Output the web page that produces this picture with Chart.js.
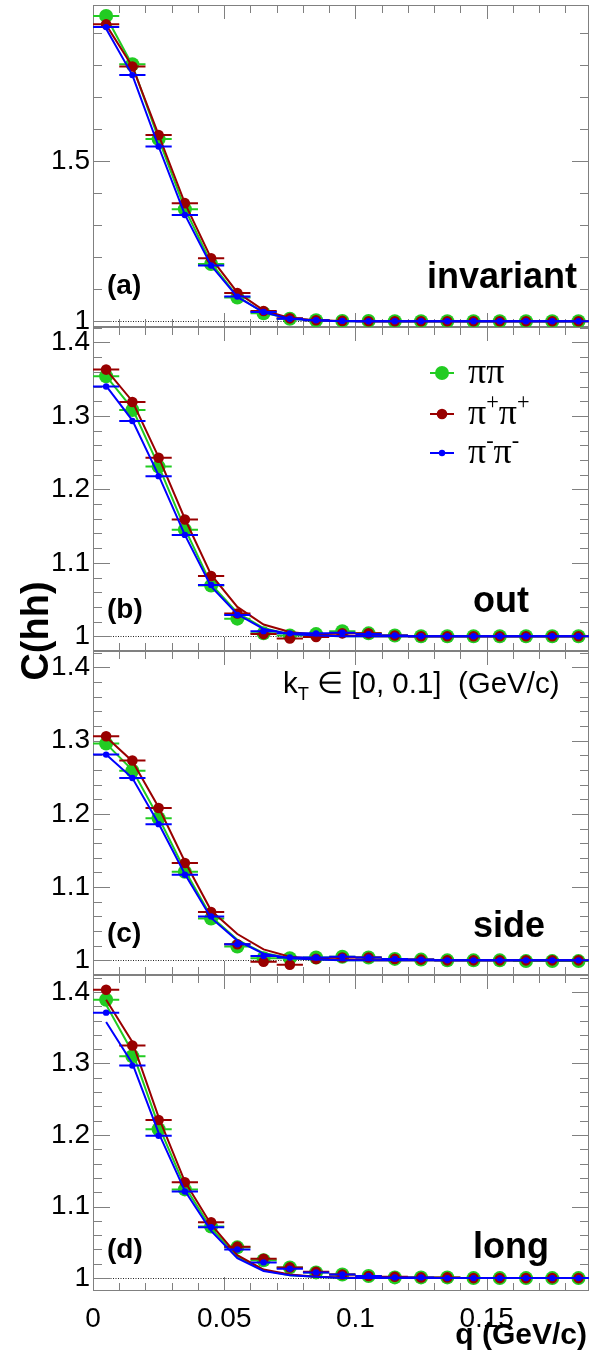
<!DOCTYPE html>
<html>
<head>
<meta charset="utf-8">
<script src="https://cdn.jsdelivr.net/npm/chart.js@4.4.1/dist/chart.umd.min.js"></script>
<style>
  html, body { margin: 0; padding: 0; background: #fff; }
  #wrap { position: relative; width: 590px; height: 1357px; overflow: hidden; background: #fff; }
  #wrap canvas { position: absolute; left: 0; }
</style>
</head>
<body>
<div id="wrap"></div>
<script>
// q bin centres (GeV/c)
const q = [0.005, 0.015, 0.025, 0.035, 0.045, 0.055, 0.065, 0.075, 0.085, 0.095,
           0.105, 0.115, 0.125, 0.135, 0.145, 0.155, 0.165, 0.175, 0.185];
const binHalf = 0.005;
const xTicks = [0, 0.05, 0.1, 0.15];
const X_MAX = 0.189;

// invariant
const invPiPi     = [1.954, 1.803, 1.569, 1.350, 1.179, 1.074, 1.025, 1.008, 1.003, 1.001, 1.001, 1.000, 1.000, 1.000, 1.000, 1.000, 1.000, 1.000, 1.000];
const invPlus     = [1.928, 1.796, 1.582, 1.369, 1.197, 1.088, 1.032, 1.009, 1.003, 1.001, 1.000, 1.000, 1.000, 1.000, 1.000, 1.000, 1.000, 1.000, 1.000];
const invMinus    = [1.919, 1.769, 1.546, 1.332, 1.174, 1.077, 1.029, 1.008, 1.003, 1.001, 1.000, 1.000, 1.000, 1.000, 1.000, 1.000, 1.000, 1.000, 1.000];
const invPiPiFit  = [1.952, 1.800, 1.570, 1.352, 1.182, 1.078, 1.027, 1.008, 1.002, 1.000, 1.000, 1.000, 1.000, 1.000, 1.000, 1.000, 1.000, 1.000, 1.000];
const invPlusFit  = [1.926, 1.796, 1.582, 1.369, 1.197, 1.090, 1.034, 1.010, 1.003, 1.001, 1.000, 1.000, 1.000, 1.000, 1.000, 1.000, 1.000, 1.000, 1.000];
const invMinusFit = [1.914, 1.769, 1.546, 1.333, 1.174, 1.076, 1.028, 1.008, 1.002, 1.000, 1.000, 1.000, 1.000, 1.000, 1.000, 1.000, 1.000, 1.000, 1.000];

// out
const outPiPi     = [1.354, 1.308, 1.231, 1.145, 1.069, 1.024, 1.004, 1.001, 1.003, 1.007, 1.004, 1.001, 1.000, 1.000, 1.000, 1.000, 1.000, 1.000, 1.000];
const outPlus     = [1.363, 1.319, 1.243, 1.159, 1.082, 1.031, 1.003, 0.997, 0.999, 1.004, 1.004, 1.001, 1.000, 1.000, 1.000, 1.000, 1.000, 1.000, 1.000];
const outMinus    = [1.340, 1.293, 1.218, 1.138, 1.070, 1.029, 1.007, 1.004, 1.004, 1.005, 1.003, 1.001, 1.000, 1.000, 1.000, 1.000, 1.000, 1.000, 1.000];
const outPiPiFit  = [1.354, 1.310, 1.232, 1.147, 1.071, 1.032, 1.011, 1.003, 1.001, 1.000, 1.000, 1.000, 1.000, 1.000, 1.000, 1.000, 1.000, 1.000, 1.000];
const outPlusFit  = [1.363, 1.320, 1.244, 1.160, 1.084, 1.040, 1.016, 1.006, 1.002, 1.001, 1.000, 1.000, 1.000, 1.000, 1.000, 1.000, 1.000, 1.000, 1.000];
const outMinusFit = [1.341, 1.294, 1.219, 1.138, 1.068, 1.030, 1.010, 1.003, 1.001, 1.000, 1.000, 1.000, 1.000, 1.000, 1.000, 1.000, 1.000, 1.000, 1.000];

// side
const sidePiPi     = [1.296, 1.259, 1.194, 1.121, 1.057, 1.019, 1.003, 1.003, 1.004, 1.005, 1.004, 1.002, 1.001, 1.000, 1.000, 1.000, 0.999, 0.999, 0.999];
const sidePlus     = [1.306, 1.273, 1.208, 1.133, 1.066, 1.022, 0.998, 0.994, 1.002, 1.004, 1.004, 1.002, 1.001, 1.000, 1.000, 1.000, 1.000, 1.000, 1.000];
const sideMinus    = [1.281, 1.249, 1.186, 1.117, 1.060, 1.022, 1.006, 1.004, 1.004, 1.005, 1.004, 1.002, 1.001, 1.000, 1.000, 1.000, 1.000, 1.000, 1.000];
const sidePiPiFit  = [1.296, 1.260, 1.195, 1.123, 1.060, 1.028, 1.010, 1.003, 1.001, 1.000, 1.000, 1.000, 1.000, 1.000, 1.000, 1.000, 1.000, 1.000, 1.000];
const sidePlusFit  = [1.305, 1.272, 1.209, 1.135, 1.068, 1.036, 1.015, 1.005, 1.002, 1.001, 1.000, 1.000, 1.000, 1.000, 1.000, 1.000, 1.000, 1.000, 1.000];
const sideMinusFit = [1.281, 1.249, 1.187, 1.118, 1.058, 1.027, 1.009, 1.003, 1.001, 1.000, 1.000, 1.000, 1.000, 1.000, 1.000, 1.000, 1.000, 1.000, 1.000];

// long
const longPiPi     = [1.389, 1.310, 1.208, 1.124, 1.072, 1.043, 1.025, 1.015, 1.008, 1.005, 1.003, 1.001, 1.001, 1.001, 1.000, 1.000, 1.000, 1.000, 1.000];
const longPlus     = [1.403, 1.325, 1.221, 1.134, 1.078, 1.044, 1.027, 1.015, 1.009, 1.005, 1.003, 1.002, 1.001, 1.001, 1.000, 1.000, 1.000, 1.000, 1.000];
const longMinus    = [1.371, 1.297, 1.199, 1.121, 1.071, 1.040, 1.022, 1.013, 1.008, 1.005, 1.003, 1.001, 1.001, 1.000, 1.000, 1.000, 1.000, 1.000, 1.000];
const longPiPiFit  = [1.382, 1.316, 1.213, 1.128, 1.070, 1.030, 1.011, 1.004, 1.002, 1.000, 1.000, 1.000, 1.000, 1.000, 1.000, 1.000, 1.000, 1.000, 1.000];
const longPlusFit  = [1.389, 1.330, 1.225, 1.135, 1.075, 1.032, 1.012, 1.005, 1.002, 1.001, 1.000, 1.000, 1.000, 1.000, 1.000, 1.000, 1.000, 1.000, 1.000];
const longMinusFit = [1.358, 1.300, 1.203, 1.122, 1.066, 1.028, 1.010, 1.004, 1.002, 1.000, 1.000, 1.000, 1.000, 1.000, 1.000, 1.000, 1.000, 1.000, 1.000];

const SANS = "'Liberation Sans', Arial, Helvetica, sans-serif";
const SERIF = "'Liberation Serif', 'Times New Roman', serif";
const FRAME = '#808080';
const PAD = 30;

const series = [
  { color: '#22cc22', r: 7,   legend: [{ t: 'π' }, { t: 'π' }] },
  { color: '#990000', r: 5.3, legend: [{ t: 'π' }, { t: '+', sup: true }, { t: 'π' }, { t: '+', sup: true }] },
  { color: '#0000ff', r: 3.2, legend: [{ t: 'π' }, { t: '-', sup: true }, { t: 'π' }, { t: '-', sup: true }] }
];

const panels = [
  { tag: '(a)', name: 'invariant', top: 5, bottom: 327, yMin: 0.982, yMax: 1.988,
    yLabels: [1, 1.5], yStep: 0.1, yEvery: 5, nameX: 427, nameY: 288,
    points: [invPiPi, invPlus, invMinus], fits: [invPiPiFit, invPlusFit, invMinusFit] },
  { tag: '(b)', name: 'out', top: 327, bottom: 651, yMin: 0.98, yMax: 1.421,
    yLabels: [1, 1.1, 1.2, 1.3, 1.4], yStep: 0.02, yEvery: 5, nameX: 473, nameY: 612,
    points: [outPiPi, outPlus, outMinus], fits: [outPiPiFit, outPlusFit, outMinusFit],
    legend: true, yTitle: true },
  { tag: '(c)', name: 'side', top: 651, bottom: 975, yMin: 0.98, yMax: 1.4225,
    yLabels: [1, 1.1, 1.2, 1.3, 1.4], yStep: 0.02, yEvery: 5, nameX: 473, nameY: 937,
    points: [sidePiPi, sidePlus, sideMinus], fits: [sidePiPiFit, sidePlusFit, sideMinusFit],
    ktLabel: true },
  { tag: '(d)', name: 'long', top: 975, bottom: 1291, yMin: 0.982, yMax: 1.4236,
    yLabels: [1, 1.1, 1.2, 1.3, 1.4], yStep: 0.02, yEvery: 5, nameX: 473, nameY: 1258,
    points: [longPiPi, longPlus, longMinus], fits: [longPiPiFit, longPlusFit, longMinusFit],
    xAxis: true }
];

function tickValues(min, max, step, every) {
  const out = [];
  const k0 = Math.ceil(min / step - 1e-6), k1 = Math.floor(max / step + 1e-6);
  for (let k = k0; k <= k1; k++) out.push({ v: k * step, major: k % every === 0 });
  return out;
}

function fmt(v) { return String(Math.round(v * 1000) / 1000); }

// text runs with super/subscripts
function drawRuns(ctx, runs, x, y, size, family, weight) {
  for (const r of runs) {
    const fs = r.sup || r.sub ? size * 0.62 : size;
    ctx.font = `${weight || ''} ${fs}px ${family}`;
    const dy = r.sup ? -size * 0.42 : r.sub ? size * 0.25 : 0;
    ctx.fillText(r.t, x, y + dy);
    x += ctx.measureText(r.t).width;
  }
}

function makeDeco(p, canvasTop) {
  const Y = v => v - canvasTop;
  return {
    id: 'deco',
    beforeDatasetsDraw(chart) {
      const { ctx, chartArea: a, scales: { x, y } } = chart;
      ctx.save();
      // dotted baseline at C = 1
      ctx.strokeStyle = '#222';
      ctx.lineWidth = 1;
      ctx.setLineDash([1, 1.5]);
      const y1 = Math.round(y.getPixelForValue(1)) + 0.5;
      ctx.beginPath(); ctx.moveTo(a.left, y1); ctx.lineTo(a.right, y1); ctx.stroke();
      ctx.setLineDash([]);
      // frame with inward ticks on all sides
      ctx.strokeStyle = FRAME;
      ctx.strokeRect(a.left + 0.5, a.top + 0.5, a.right - a.left - 1, a.bottom - a.top - 1);
      ctx.beginPath();
      for (const t of tickValues(p.yMin, p.yMax, p.yStep, p.yEvery)) {
        const py = Math.round(y.getPixelForValue(t.v)) + 0.5;
        const len = t.major ? 17 : 9;
        ctx.moveTo(a.left, py); ctx.lineTo(a.left + len, py);
        ctx.moveTo(a.right, py); ctx.lineTo(a.right - len, py);
      }
      for (const t of tickValues(0, X_MAX, 0.01, 5)) {
        const px = Math.round(x.getPixelForValue(t.v)) + 0.5;
        const len = t.major ? 14 : 8;
        ctx.moveTo(px, a.top); ctx.lineTo(px, a.top + len);
        ctx.moveTo(px, a.bottom); ctx.lineTo(px, a.bottom - len);
      }
      ctx.stroke();
      ctx.restore();
    },
    beforeDatasetDraw(chart, args) {
      const ds = chart.data.datasets[args.index];
      if (!ds.errBars) return;
      const { ctx, chartArea: a, scales: { x } } = chart;
      ctx.save();
      ctx.beginPath(); ctx.rect(a.left, a.top, a.right - a.left, a.bottom - a.top); ctx.clip();
      ctx.strokeStyle = ds.borderColor;
      ctx.lineWidth = 2;
      ctx.beginPath();
      args.meta.data.forEach((pt, i) => {
        const xv = ds.data[i].x;
        ctx.moveTo(x.getPixelForValue(xv - binHalf), pt.y);
        ctx.lineTo(x.getPixelForValue(xv + binHalf), pt.y);
      });
      ctx.stroke();
      ctx.restore();
    },
    afterDraw(chart) {
      const ctx = chart.ctx;
      ctx.save();
      ctx.fillStyle = '#000';
      ctx.textBaseline = 'alphabetic';
      ctx.textAlign = 'left';
      ctx.font = `bold 28px ${SANS}`;
      ctx.fillText(p.tag, 107, Y(p.bottom - 33));
      ctx.font = `bold 36px ${SANS}`;
      ctx.fillText(p.name, p.nameX, Y(p.nameY));

      if (p.legend) {
        const rows = [373, 414, 453];
        series.forEach((s, i) => {
          const ry = Y(rows[i]);
          ctx.strokeStyle = s.color; ctx.lineWidth = 2;
          ctx.beginPath(); ctx.moveTo(430, ry); ctx.lineTo(454, ry); ctx.stroke();
          ctx.fillStyle = s.color;
          ctx.beginPath(); ctx.arc(442, ry, s.r, 0, Math.PI * 2); ctx.fill();
          ctx.fillStyle = '#000';
          drawRuns(ctx, s.legend, 468, ry + 10, 36, SERIF);
        });
      }
      if (p.yTitle) {
        ctx.save();
        ctx.translate(48, Y(631));
        ctx.rotate(-Math.PI / 2);
        ctx.textAlign = 'center';
        ctx.font = `bold 38px ${SANS}`;
        ctx.fillText('C(hh)', 0, 0);
        ctx.restore();
      }
      if (p.ktLabel) {
        drawRuns(ctx, [{ t: 'k' }, { t: 'T', sub: true }, { t: ' ∈ [0, 0.1]  (GeV/c)' }], 283, Y(693), 29.5, SANS);
      }
      if (p.xAxis) {
        ctx.textAlign = 'right';
        ctx.font = `bold 30px ${SANS}`;
        ctx.fillText('q (GeV/c)', 587, Y(1344));
      }
      ctx.restore();
    }
  };
}

const wrap = document.getElementById('wrap');

panels.forEach(p => {
  const canvasTop = p.top - PAD;
  const padBottom = p.xAxis ? 0 : PAD;
  const xScaleH = p.xAxis ? 1357 - p.bottom : 0;
  const height = p.xAxis ? 1357 - canvasTop : (p.bottom - p.top) + 2 * PAD;

  const canvas = document.createElement('canvas');
  canvas.width = 590;
  canvas.height = height;
  canvas.style.top = canvasTop + 'px';
  wrap.appendChild(canvas);

  const datasets = [];
  series.forEach((s, i) => {
    const order = (series.length - i) * 2;
    datasets.push({
      data: q.map((x, k) => ({ x, y: p.points[i][k] })),
      showLine: false,
      borderColor: s.color,
      backgroundColor: s.color,
      pointBackgroundColor: s.color,
      pointBorderWidth: 0,
      pointRadius: s.r,
      errBars: true,
      order
    });
    datasets.push({
      data: q.map((x, k) => ({ x, y: p.fits[i][k] })),
      borderColor: s.color,
      borderWidth: 2,
      pointRadius: 0,
      tension: 0,
      fill: false,
      order: order - 1
    });
  });

  new Chart(canvas, {
    type: 'line',
    data: { datasets },
    options: {
      responsive: false,
      animation: false,
      devicePixelRatio: 1,
      layout: { autoPadding: false, padding: { top: PAD, bottom: padBottom, left: 0, right: 1 } },
      plugins: { legend: { display: false }, tooltip: { enabled: false } },
      scales: {
        x: {
          type: 'linear',
          min: 0, max: X_MAX,
          display: !!p.xAxis,
          grid: { display: false, drawTicks: false },
          border: { display: false },
          afterBuildTicks: s => { s.ticks = xTicks.map(v => ({ value: v })); },
          afterFit: s => { s.height = xScaleH; s.paddingLeft = 0; s.paddingRight = 0; },
          ticks: {
            color: '#000', padding: 11, maxRotation: 0, autoSkip: false,
            font: { family: SANS, size: 28 },
            callback: v => fmt(v)
          }
        },
        y: {
          type: 'linear',
          min: p.yMin, max: p.yMax,
          grid: { display: false, drawTicks: false },
          border: { display: false },
          afterBuildTicks: s => { s.ticks = p.yLabels.map(v => ({ value: v })); },
          afterFit: s => { s.width = 93; s.paddingTop = 0; s.paddingBottom = 0; },
          ticks: {
            color: '#000', padding: 3, autoSkip: false,
            font: { family: SANS, size: 28 },
            callback: v => fmt(v)
          }
        }
      }
    },
    plugins: [makeDeco(p, canvasTop)]
  });
});
</script>
</body>
</html>
